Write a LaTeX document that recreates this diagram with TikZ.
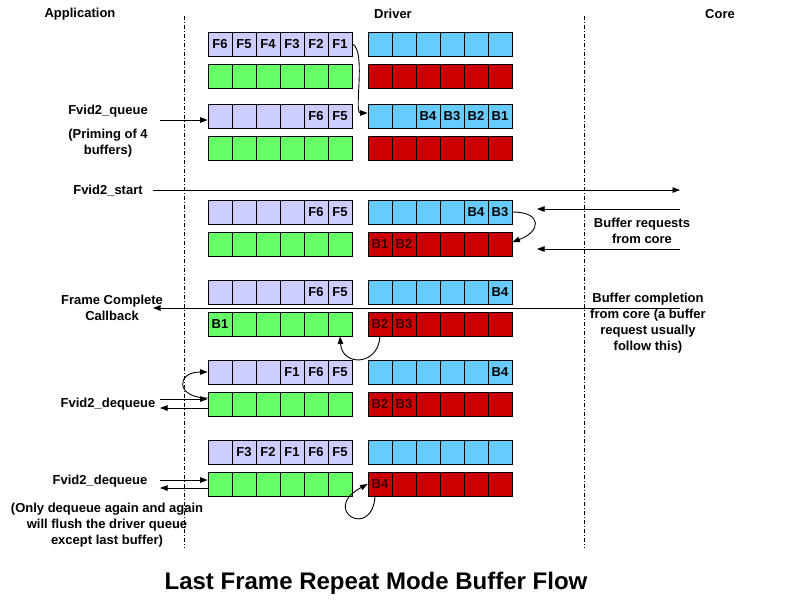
\documentclass[tikz,border=0pt]{standalone}
\usepackage{fontspec}
\setmainfont{Liberation Sans}
\usetikzlibrary{arrows.meta}
\definecolor{lavc}{HTML}{CCCCFF}
\definecolor{cyac}{HTML}{66CCFF}
\definecolor{grnc}{HTML}{66FF66}
\definecolor{redc}{HTML}{CC0000}
\definecolor{redtxt}{HTML}{380000}
\tikzset{
  cell/.style={draw=black, line width=0.8pt, minimum width=24pt, minimum height=24pt, inner sep=0pt,
    font=\fontsize{13}{16}\selectfont\bfseries},
  lavcell/.style={cell, fill=lavc},
  cyacell/.style={cell, fill=cyac},
  grncell/.style={cell, fill=grnc},
  redcell/.style={cell, fill=redc, text=redtxt},
  lbl/.style={font=\fontsize{13}{16}\selectfont\bfseries, align=center, inner sep=0pt},
  titletext/.style={font=\fontsize{24}{28}\selectfont\bfseries, inner sep=0pt},
  arr/.style={line width=0.9pt, -{Triangle[length=7.5pt,width=5.5pt]}},
  sepline/.style={line width=0.7pt, dash pattern=on 4pt off 2pt on 1pt off 2pt},
}
\newcommand\qrow[4]{%
  \foreach \t [count=\i] in {#4} {\node[#3] (#1c\i) at ({#2+12+24*(\i-1)},\qy) {\t};}%
}
\begin{document}
\begin{tikzpicture}[x=1pt,y=-1pt]
\useasboundingbox (0,0) rectangle (800,614);
\fill[white] (0,0) rectangle (800,614);
% separators
\coordinate (s1t) at (184,16); \coordinate (s1b) at (184,548);
\coordinate (s2t) at (584,16); \coordinate (s2b) at (584,548);
\draw[sepline] (s1t) -- (s1b);
\draw[sepline] (s2t) -- (s2b);
% headers
\node[lbl] (hApp) at (80,14) {Application};
\node[lbl] (hDrv) at (393,14) {Driver};
\node[lbl] (hCore) at (720,14) {Core};
% rows
\def\qy{44}
\qrow{L1}{208}{lavcell}{F6,F5,F4,F3,F2,F1}
\qrow{R1}{368}{cyacell}{{},{},{},{},{},{}}
\def\qy{76}
\qrow{L2}{208}{grncell}{{},{},{},{},{},{}}
\qrow{R2}{368}{redcell}{{},{},{},{},{},{}}
\def\qy{116}
\qrow{L3}{208}{lavcell}{{},{},{},{},F6,F5}
\qrow{R3}{368}{cyacell}{{},{},B4,B3,B2,B1}
\def\qy{148}
\qrow{L4}{208}{grncell}{{},{},{},{},{},{}}
\qrow{R4}{368}{redcell}{{},{},{},{},{},{}}
\def\qy{212}
\qrow{L5}{208}{lavcell}{{},{},{},{},F6,F5}
\qrow{R5}{368}{cyacell}{{},{},{},{},B4,B3}
\def\qy{244}
\qrow{L6}{208}{grncell}{{},{},{},{},{},{}}
\qrow{R6}{368}{redcell}{B1,B2,{},{},{},{}}
\def\qy{292}
\qrow{L7}{208}{lavcell}{{},{},{},{},F6,F5}
\qrow{R7}{368}{cyacell}{{},{},{},{},{},B4}
\def\qy{324}
\qrow{L8}{208}{grncell}{B1,{},{},{},{},{}}
\qrow{R8}{368}{redcell}{B2,B3,{},{},{},{}}
\def\qy{372}
\qrow{L9}{208}{lavcell}{{},{},{},F1,F6,F5}
\qrow{R9}{368}{cyacell}{{},{},{},{},{},B4}
\def\qy{404}
\qrow{L10}{208}{grncell}{{},{},{},{},{},{}}
\qrow{R10}{368}{redcell}{B2,B3,{},{},{},{}}
\def\qy{452}
\qrow{L11}{208}{lavcell}{{},F3,F2,F1,F6,F5}
\qrow{R11}{368}{cyacell}{{},{},{},{},{},{}}
\def\qy{484}
\qrow{L12}{208}{grncell}{{},{},{},{},{},{}}
\qrow{R12}{368}{redcell}{B4,{},{},{},{},{}}
% left labels
\node[lbl] (tQueue) at (108,111.5) {Fvid2\_queue};
\node[lbl] (tPrime) at (108,143) {(Priming of 4\\buffers)};
\node[lbl] (tStart) at (108,190.5) {Fvid2\_start};
\node[lbl] (tFCC) at (112,308) {Frame Complete\\Callback};
\node[lbl] (tDq1) at (108,404.5) {Fvid2\_dequeue};
\node[lbl] (tDq2) at (100,481.5) {Fvid2\_dequeue};
\node[lbl] (tNote) at (107,525) {(Only dequeue again and again\\will flush the driver queue\\except last buffer)};
% right labels
\node[lbl] (tReq) at (642,230.5) {Buffer requests\\from core};
\node[lbl] (tComp) at (648,323.5) {Buffer completion\\from core (a buffer\\request usually\\follow this)};
% title
\node[titletext] (title) at (376,583) {Last Frame Repeat Mode Buffer Flow};
% free end points
\coordinate (qS) at (160,120);
\coordinate (stS) at (153,190); \coordinate (stE) at (680,190);
\coordinate (rq1S) at (680,209); \coordinate (rq1E) at (537,209);
\coordinate (rq2S) at (680,249); \coordinate (rq2E) at (537,249);
\coordinate (cpS) at (680,308); \coordinate (cpE) at (153,308);
\coordinate (dq1S) at (160,399); \coordinate (dq1E) at (160,408);
\coordinate (dq2S) at (160,480); \coordinate (dq2E) at (160,488);
% connectors
\draw[arr] (qS) -- ([yshift=-4pt]L3c1.west);
\draw[arr] (L1c6.east) .. controls +(14,6) and +(-14,0) .. ([yshift=3pt]R3c1.west);
\draw[arr] (stS) -- (stE);
\draw[arr] (rq1S) -- (rq1E);
\draw[arr] (rq2S) -- (rq2E);
\draw[arr] (R5c6.east) to[out=0,in=20,looseness=2.6] ([yshift=2pt]R6c6.east);
\draw[arr] (cpS) -- (cpE);
\draw[arr] (R8c1.south) .. controls +(-2,30) and +(2,30) .. (L8c6.south);
\draw[arr] (dq1S) -- ([yshift=5pt]L10c1.west);
\draw[arr] ([yshift=-4pt]L10c1.west) -- (dq1E);
\draw[arr] ([yshift=6pt]L10c1.west) .. controls +(-32,0) and +(-32,0) .. ([yshift=0pt]L9c1.west);
\draw[arr] (dq2S) -- ([yshift=4pt]L12c1.west);
\draw[arr] ([yshift=-4pt]L12c1.west) -- (dq2E);
\draw[arr] ([xshift=-5pt]R12c1.south) .. controls +(-3,44) and +(-48,26) .. (R12c1.west);
\end{tikzpicture}
\end{document}
